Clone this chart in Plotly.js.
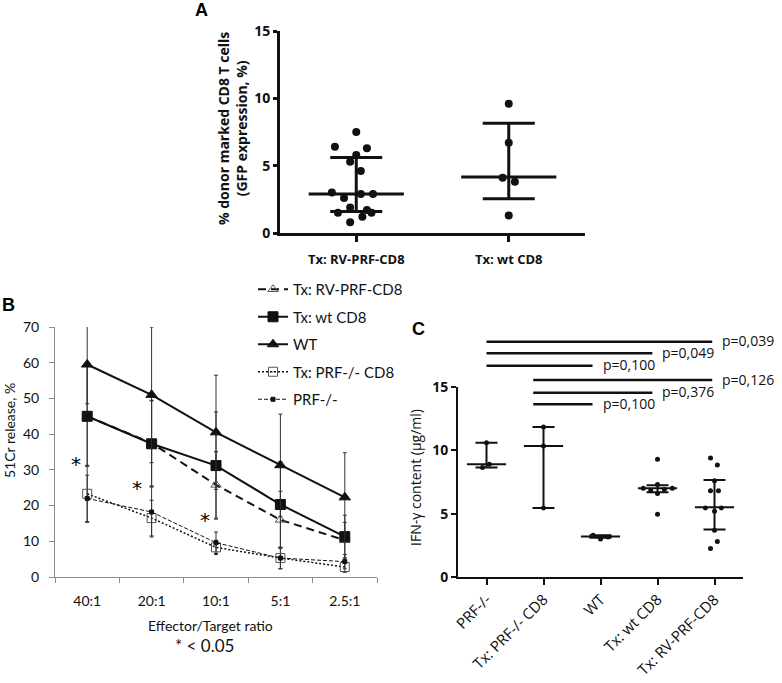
<!DOCTYPE html>
<html>
<head>
<meta charset="utf-8">
<script src="https://cdn.plot.ly/plotly-3.0.1.min.js"></script>
<style>
  html, body { margin: 0; padding: 0; background: #fff; }
  #chart { width: 782px; height: 683px; }
</style>
</head>
<body>
<div id="chart"></div>
<script>
// Panel A: % donor marked CD8 T cells (GFP)
const aGroups = ["Tx: RV-PRF-CD8", "Tx: wt CD8"];
const aRvPrf = [7.5, 6.4, 6.3, 5.8, 5.3, 4.6, 3.0, 2.6, 2.9, 2.9, 1.9, 1.7, 1.5, 1.5, 1.2, 0.8];
const aRvPrfJitter = [0, -0.14, 0.07, 0, -0.04, 0.03, -0.16, -0.08, 0.03, 0.11, -0.04, 0.07, -0.12, 0.1, 0.04, -0.04];
const aWt = [9.6, 6.7, 4.1, 3.8, 1.3];
const aWtJitter = [0, 0, -0.04, 0.04, 0];
const aMedian = [2.9, 4.15];
const aLow = [1.6, 2.55];
const aHigh = [5.6, 8.15];

// Panel B: 51Cr release by effector/target ratio
const bRatios = ["40:1", "20:1", "10:1", "5:1", "2.5:1"];
const bRvPrf = [45, 37.5, 25.8, 16, 10.3];
const bRvPrfErr = [14, 12, 9.3, 8, 5];
const bTxWt = [45, 37.3, 31.2, 20.3, 11.3];
const bTxWtErr = [14, 12, 15, 12, 6];
const bWt = [59.5, 51, 40.5, 31.3, 22.3];
const bWtErr = [11, 19, 16, 14.3, 12.5];
const bTxPrfKo = [23.3, 16.5, 8.3, 5.3, 2.8];
const bTxPrfKoErr = [8, 5, 2, 3, 1.5];
const bPrfKo = [22, 18.2, 9.6, 5.3, 4.3];
const bPrfKoErr = [6.5, 7, 3, 3, 2];
const bStars = [[-0.17, 33.3], [0.77, 26.6], [1.83, 17.6]];

// Panel C: IFN-γ content
const cGroups = ["PRF-/-", "Tx: PRF-/- CD8", "WT", "Tx: wt CD8", "Tx: RV-PRF-CD8"];
const cValues = [
  [10.6, 8.65, 8.9],
  [11.85, 10.35, 5.45],
  [3.3, 3.0, 3.15],
  [9.3, 7.3, 7.0, 6.8, 6.6, 6.9, 7.0, 4.95],
  [9.4, 8.85, 7.6, 6.8, 6.8, 5.45, 5.2, 5.45, 3.7, 2.8, 2.25],
];
const cJitter = [
  [0, -0.07, 0.05],
  [0, 0, 0],
  [-0.13, 0, 0.13],
  [0, 0, -0.25, -0.12, 0, 0.12, 0.26, 0],
  [-0.07, 0.05, 0, -0.07, 0.07, -0.16, 0, 0.12, 0, 0.05, -0.07],
];
const cMedian = [8.9, 10.35, 3.2, 7.0, 5.5];
const cLow = [8.65, 5.45, 3.1, 6.7, 3.75];
const cHigh = [10.6, 11.85, 3.3, 7.25, 7.65];
const cCompare = [
  [0, 4, "p=0,039"],
  [0, 3, "p=0,049"],
  [0, 2, "p=0,100"],
  [1, 4, "p=0,126"],
  [1, 3, "p=0,376"],
  [1, 2, "p=0,100"],
];

const W = 782;
const H = 683;
const px = (x) => x / W;
const py = (y) => 1 - y / H;

const OPEN = '"Open Sans", sans-serif';
const LATO = 'Lato, sans-serif';
const INK = "#111";

function scatterGroup(values, jitter, groupIndex, xa, ya, size) {
  return {
    type: "scatter",
    mode: "markers",
    x: values.map((v, i) => groupIndex + jitter[i]),
    y: values,
    xaxis: xa,
    yaxis: ya,
    marker: { color: INK, size: size },
    showlegend: false,
    hoverinfo: "y",
  };
}

function summaryTrace(median, low, high, xa, ya, lineSize, lineW, capW) {
  return {
    type: "scatter",
    mode: "markers",
    x: median.map((m, i) => i),
    y: median,
    xaxis: xa,
    yaxis: ya,
    marker: { symbol: "line-ew", size: lineSize, color: INK, line: { color: INK, width: lineW } },
    error_y: {
      type: "data",
      symmetric: false,
      array: high.map((h, i) => h - median[i]),
      arrayminus: low.map((l, i) => median[i] - l),
      color: INK,
      thickness: lineW,
      width: capW,
    },
    showlegend: false,
    hoverinfo: "y",
  };
}

function lineTrace(name, y, err, symbol, markerColor, size, dash, width) {
  return {
    type: "scatter",
    mode: "lines+markers",
    name: name,
    legendgroup: name,
    x: bRatios,
    y: y,
    xaxis: "x2",
    yaxis: "y2",
    line: { color: INK, width: width, dash: dash },
    marker: { symbol: symbol, size: size, color: markerColor, line: { color: markerColor, width: 1 } },
    error_y: { type: "data", array: err, color: "#333", thickness: 1, width: 2 },
  };
}

const traces = [
  // A
  summaryTrace(aMedian, aLow, aHigh, "x", "y", 68, 3, 26),
  scatterGroup(aRvPrf, aRvPrfJitter, 0, "x", "y", 8),
  scatterGroup(aWt, aWtJitter, 1, "x", "y", 8),
  // B (legend order follows this)
  lineTrace("Tx: RV-PRF-CD8", bRvPrf, bRvPrfErr, "triangle-up-open", "#555", 9, "8px,5px", 2),
  lineTrace("Tx: wt CD8", bTxWt, bTxWtErr, "square", INK, 10, "solid", 2),
  lineTrace("WT", bWt, bWtErr, "triangle-up", INK, 10, "solid", 2),
  lineTrace("Tx: PRF-/- CD8", bTxPrfKo, bTxPrfKoErr, "square-open-dot", "#555", 9, "2px,2px", 1.5),
  lineTrace("PRF-/-", bPrfKo, bPrfKoErr, "square", INK, 4, "4px,2px", 1),
  // C
  summaryTrace(cMedian, cLow, cHigh, "x3", "y3", 28, 2, 11),
];
cValues.forEach((vals, g) => traces.push(scatterGroup(vals, cJitter[g], g, "x3", "y3", 5)));

const shapes = [];
const annotations = [];

// significance bars above panel C (y in page space, x in category units)
const sigY = [341.7, 353.3, 365.7, 380, 392.7, 404.3];
cCompare.forEach(([from, to, label], i) => {
  const x0 = from === 0 ? 0 : from - 0.18;
  // bars stop a little short of the target group
  const x1 = to - 0.04 - 0.05 * (4 - to);
  shapes.push({
    type: "line", xref: "x3", yref: "paper",
    x0: x0, x1: x1, y0: py(sigY[i]), y1: py(sigY[i]),
    line: { color: INK, width: 2.5 },
  });
  annotations.push({
    xref: "x3", yref: "paper", x: x1, y: py(sigY[i]),
    xanchor: "left", yanchor: "middle", xshift: 8, yshift: 1,
    text: label, showarrow: false,
    font: { family: OPEN, size: 14, color: INK },
  });
});

bStars.forEach(([x, y]) => {
  annotations.push({
    xref: "x2", yref: "y2", x: x, y: y, yshift: -6,
    xanchor: "center", yanchor: "middle",
    text: "*", showarrow: false,
    font: { family: '"DejaVu Sans", sans-serif', size: 20, color: "#000" },
  });
});

const paperText = (x, y, text, font, extra) =>
  Object.assign({
    xref: "paper", yref: "paper", x: px(x), y: py(y),
    xanchor: "center", yanchor: "middle",
    text, showarrow: false, font,
  }, extra || {});

const panelFont = { family: "Liberation Sans, Arial, sans-serif", size: 18, weight: "bold", color: "#000" };

annotations.push(
  paperText(201, 10, "A", panelFont),
  paperText(8, 305, "B", panelFont),
  paperText(418, 329, "C", panelFont),
  paperText(232, 129, "% donor marked CD8 T cells<br>(GFP expression, %)",
    { family: OPEN, size: 14, weight: "bold", color: INK }, { textangle: -90 }),
  paperText(9, 431, "51Cr release, %", { family: LATO, size: 14, color: INK }, { textangle: -90 }),
  paperText(210, 625, "Effector/Target ratio", { family: LATO, size: 14, color: INK }),
  paperText(204, 645, "* &lt; 0.05", { family: LATO, size: 17, color: INK }),
  paperText(415, 478, "IFN-γ content (µg/ml)", { family: OPEN, size: 14, color: INK }, { textangle: -90 })
);

const boldTick = { family: OPEN, size: 14, weight: "bold", color: INK };

const layout = {
  width: W,
  height: H,
  margin: { l: 0, r: 0, t: 0, b: 0 },
  paper_bgcolor: "#fff",
  plot_bgcolor: "rgba(0,0,0,0)",
  font: { family: OPEN, color: INK },
  showlegend: true,
  legend: {
    x: px(253), y: py(273), xanchor: "left", yanchor: "top",
    font: { family: LATO, size: 15, color: INK },
    bgcolor: "rgba(0,0,0,0)",
    tracegroupgap: 5,
  },
  xaxis: {
    domain: [px(280), px(585)], anchor: "y", range: [-0.5, 1.5],
    tickvals: [0, 1], ticktext: aGroups,
    showline: true, linewidth: 3, linecolor: INK, showgrid: false, zeroline: false,
    ticks: "outside", ticklen: 6, tickwidth: 3, tickcolor: INK,
    tickfont: { family: OPEN, size: 13, weight: "bold", color: INK },
    ticklabelstandoff: 6,
  },
  yaxis: {
    domain: [py(233), py(31)], anchor: "x", range: [0, 15],
    tickvals: [0, 5, 10, 15],
    showline: true, linewidth: 3, linecolor: INK, showgrid: false, zeroline: false,
    ticks: "outside", ticklen: 4, tickwidth: 3, tickcolor: INK,
    tickfont: boldTick,
  },
  xaxis2: {
    domain: [px(55), px(377)], anchor: "y2", type: "category", range: [-0.5, 4.5],
    showline: true, linewidth: 1, linecolor: "#8c8c8c", showgrid: false, zeroline: false,
    ticks: "outside", tickson: "boundaries", ticklen: 5, tickcolor: "#8c8c8c",
    tickfont: { family: LATO, size: 14, color: INK },
    ticklabelstandoff: 11,
  },
  yaxis2: {
    domain: [py(577), py(327)], anchor: "x2", range: [0, 70], dtick: 10,
    showline: true, linewidth: 1, linecolor: "#8c8c8c", showgrid: false, zeroline: false,
    ticks: "outside", ticklen: 5, tickcolor: "#8c8c8c",
    tickfont: { family: LATO, size: 14, color: INK },
    ticklabelstandoff: 7,
  },
  xaxis3: {
    domain: [px(458), px(743)], anchor: "y3", range: [-0.5, 4.5],
    tickvals: [0, 1, 2, 3, 4], ticktext: cGroups, tickangle: -45,
    showline: true, linewidth: 2, linecolor: INK, showgrid: false, zeroline: false,
    ticks: "outside", ticklen: 6, tickwidth: 2, tickcolor: INK,
    tickfont: { family: OPEN, size: 15, color: INK },
  },
  yaxis3: {
    domain: [py(577), py(387)], anchor: "x3", range: [0, 15],
    tickvals: [0, 5, 10, 15],
    showline: true, linewidth: 2, linecolor: INK, showgrid: false, zeroline: false,
    ticks: "outside", ticklen: 5, tickwidth: 2, tickcolor: INK,
    tickfont: boldTick,
  },
  shapes: shapes,
  annotations: annotations,
};

Plotly.newPlot("chart", traces, layout, { displayModeBar: false, staticPlot: true });
</script>
</body>
</html>
